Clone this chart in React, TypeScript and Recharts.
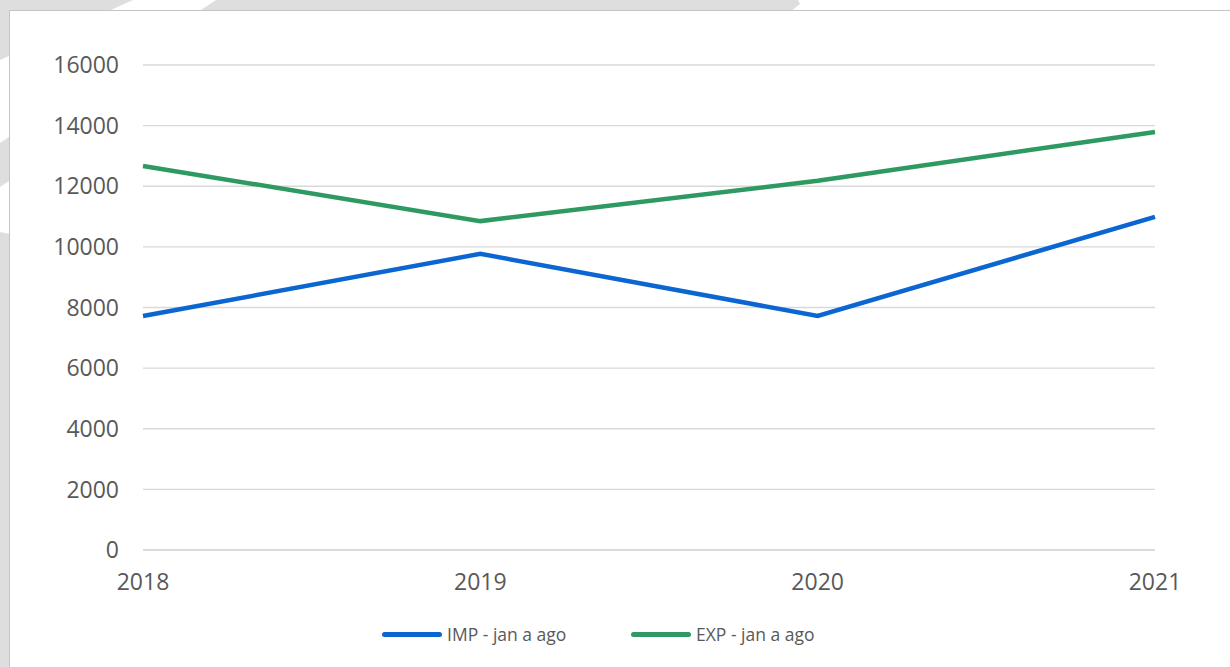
import React from "react";
import { LineChart, Line, XAxis, YAxis, CartesianGrid, Legend } from "recharts";

const years = ["2018", "2019", "2020", "2021"];
const impValues = [7720, 9770, 7720, 10990];
const expValues = [12670, 10850, 12180, 13790];
const yTicks = [0, 2000, 4000, 6000, 8000, 10000, 12000, 14000, 16000];
const seriesNames = ["IMP - jan a ago", "EXP - jan a ago"];
const seriesColors = ["#0b66d2", "#2e9a62"];

const data = years.map((y, i) => ({ year: y, imp: impValues[i], exp: expValues[i] }));

const FONT = "'Open Sans', 'Segoe UI', sans-serif";

const LegendContent = () => (
  <div style={{ position: "relative", width: 1230, height: 47, fontFamily: FONT }}>
    {seriesNames.map((name, i) => (
      <div
        key={name}
        style={{
          position: "absolute",
          left: i === 0 ? 382 : 631,
          top: 2,
          display: "flex",
          alignItems: "center",
          fontSize: 17.5,
          color: "#595959",
          whiteSpace: "nowrap",
        }}
      >
        <div style={{ width: 60, height: 5, borderRadius: 3, background: seriesColors[i], marginRight: 5 }} />
        <span>{name}</span>
      </div>
    ))}
  </div>
);

export default function App() {
  return (
    <div style={{ position: "absolute", left: 0, top: 0, width: 1230, height: 667, overflow: "hidden", background: "#dedede" }}>
      <svg width={1230} height={667} style={{ position: "absolute", left: 0, top: 0 }}>
        <polygon points="133,0 216,0 0,143 0,60" fill="#ffffff" />
        <polygon points="0,187 40,160 40,240 0,232" fill="#ffffff" />
        <polygon points="798,0 1230,0 1230,12 790,12 800,4" fill="#ffffff" />
      </svg>
      <div
        style={{
          position: "absolute",
          left: 9,
          top: 10,
          width: 1240,
          height: 680,
          background: "#ffffff",
          border: "1px solid #c4c4c4",
          boxSizing: "border-box",
        }}
      />
      <div style={{ position: "absolute", left: 0, top: 0 }}>
        <LineChart width={1230} height={667} data={data} margin={{ top: 65, right: 75, bottom: 30, left: 0 }}>
          <CartesianGrid horizontal vertical={false} stroke="#d9d9d9" strokeWidth={1.3} />
          <XAxis
            dataKey="year"
            axisLine={{ stroke: "#d9d9d9", strokeWidth: 1.3 }}
            tickLine={false}
            tickSize={0}
            tickMargin={24}
            height={40}
            interval={0}
            tick={{ fill: "#595959", fontSize: 23, fontFamily: FONT }}
          />
          <YAxis
            width={143}
            domain={[0, 16000]}
            ticks={yTicks}
            axisLine={false}
            tickLine={false}
            tickSize={0}
            tickMargin={24}
            interval={0}
            tick={{ fill: "#595959", fontSize: 23, fontFamily: FONT }}
          />
          <Legend
            verticalAlign="bottom"
            content={<LegendContent />}
            wrapperStyle={{ top: 620, left: 0, bottom: "auto", width: 1230, height: 47 }}
          />
          <Line
            type="linear"
            dataKey="imp"
            name={seriesNames[0]}
            stroke={seriesColors[0]}
            strokeWidth={4.5}
            dot={false}
            activeDot={false}
            isAnimationActive={false}
          />
          <Line
            type="linear"
            dataKey="exp"
            name={seriesNames[1]}
            stroke={seriesColors[1]}
            strokeWidth={4.5}
            dot={false}
            activeDot={false}
            isAnimationActive={false}
          />
        </LineChart>
      </div>
    </div>
  );
}
